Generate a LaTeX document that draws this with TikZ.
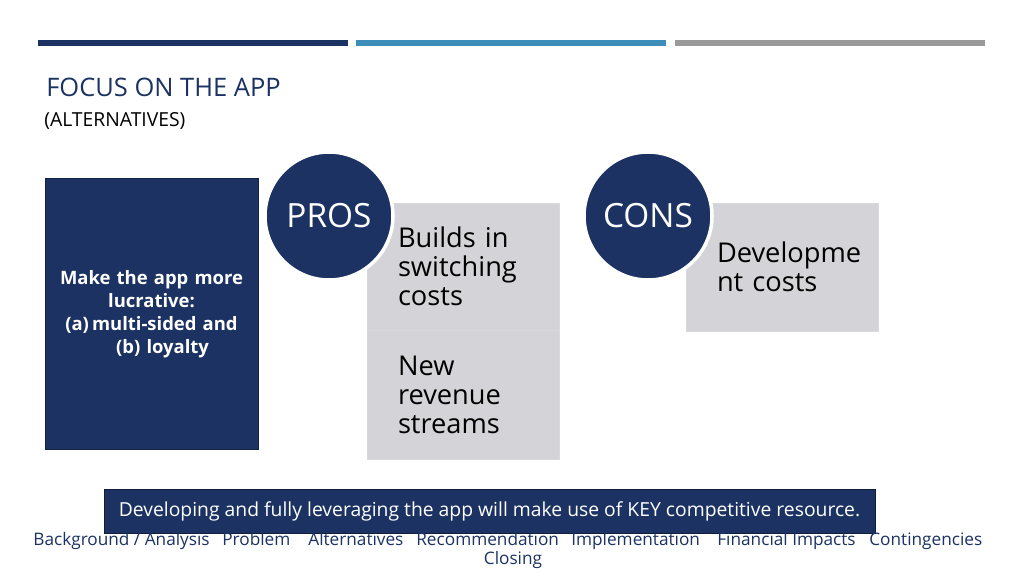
\documentclass[tikz,border=0pt]{standalone}
\usepackage{fontspec}
\setmainfont{Open Sans}
\usetikzlibrary{positioning}
\definecolor{navy}{HTML}{1B3262}
\definecolor{skyblue}{HTML}{3C8DBA}
\definecolor{bargrey}{HTML}{9A9A9A}
\definecolor{boxgrey}{HTML}{D4D4D8}
\newdimen\px \px=0.02cm
\begin{document}
\begin{tikzpicture}[x=0.02cm,y=-0.02cm,
		bar/.style={minimum height=6.5\px,minimum width=310\px,inner sep=0,anchor=west},
		circ/.style={circle,fill=navy,draw=white,line width=2pt,minimum size=128\px,inner sep=0,text=white,font=\fontsize{19}{22}\selectfont},
		item/.style={fill=boxgrey,draw=white!85!black,minimum width=192\px,inner sep=0,text width=130\px,align=left,font=\fontsize{15.5}{16.5}\selectfont},
		nav/.style={text=navy,font=\fontsize{9.8}{11}\selectfont,inner sep=0,anchor=base west}]
		\useasboundingbox (0,0) rectangle (1024,575);
		% header bars
		\node[bar,fill=navy] (b1) at (38,43) {};
		\node[bar,fill=skyblue] (b2) at (356,43) {};
		\node[bar,fill=bargrey] (b3) at (675,43) {};
		\node[anchor=west,inner sep=0,text=navy,font=\fontsize{14.5}{16}\selectfont] (title) at (46,87) {FOCUS ON THE APP};
		\node[anchor=west,inner sep=0,font=\fontsize{11}{13}\selectfont] (sub) at (44,121) {(ALTERNATIVES)};
		% left box
		\node[fill=navy,draw=navy!70!black,minimum width=213\px,minimum height=271\px,inner sep=0,text=white,text width=205\px,align=center,font=\bfseries\fontsize{10.5}{13}\selectfont] (main) at (151.5,314)
			{Make the app more\\lucrative:\\(a)\,multi-sided and\\\hspace*{1.2em}(b) loyalty};
		% pros
		\node[item,minimum height=127\px] (p1) at (463,266.5) {Builds in\\switching\\costs};
		\node[item,minimum height=129\px] (p2) at (463,394.5) {New\\revenue\\streams};
		\node[circ] (pros) at (329,216) {PROS};
		% cons
		\node[item,minimum height=128\px] (c1) at (782,267) {Developme\\nt costs};
		\node[circ] (cons) at (648,216) {CONS};
		% banner
		\node[fill=navy,draw=navy!60!black,minimum width=771\px,minimum height=44\px,text=white,font=\fontsize{11}{12}\selectfont] (msg) at (489.5,511) {Developing and fully leveraging the app will make use of KEY competitive resource.};
		% navigation
		\node[nav] (n1) at (33,545) {Background / Analysis};
		\node[nav] (n2) at (222,545) {Problem};
		\node[nav] (n3) at (308,545) {Alternatives};
		\node[nav] (n4) at (416,545) {Recommendation};
		\node[nav] (n5) at (571,545) {Implementation};
		\node[nav] (n6) at (717,545) {Financial Impacts};
		\node[nav] (n7) at (869,545) {Contingencies};
		\node[nav,anchor=center] (n8) at (513,560) {Closing};
\end{tikzpicture}
\end{document}
